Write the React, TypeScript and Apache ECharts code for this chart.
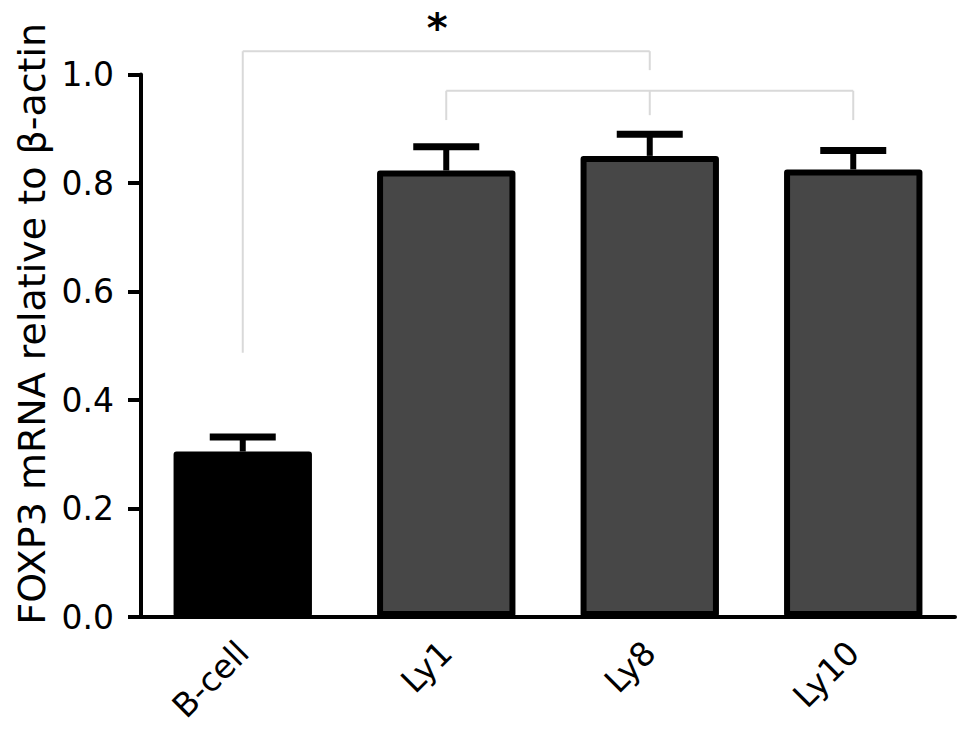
import React, { useEffect, useRef } from "react";
import * as echarts from "echarts";

const categories = ["B-cell", "Ly1", "Ly8", "Ly10"];
const means = [0.305, 0.823, 0.85, 0.825];
const errors = [0.027, 0.044, 0.04, 0.035];
const barColors = ["#000000", "#474747", "#474747", "#474747"];
const yMin = 0;
const yMax = 1;
const yInterval = 0.2;
const yTitle = "FOXP3 mRNA relative to β-actin";

// significance brackets (category indexes, level & drop ends in data units)
const bracketFrom = [0, 1];
const bracketTo = [2, 3];
const bracketLevels = [1.043, 0.97];
const bracketDrops = [
  [
    [0, 0.487],
    [2, 1.008],
  ],
  [
    [1, 0.916],
    [2, 0.925],
    [3, 0.916],
  ],
];
const starText = "*";
const starPos = [1, 1.085];

export default function App() {
  const ref = useRef<HTMLDivElement>(null);
  useEffect(() => {
    if (!ref.current) return;
    const chart = echarts.init(ref.current, null, { renderer: "svg" });
    const font = "DejaVu Sans";
    chart.setOption({
      animation: false,
      backgroundColor: "#ffffff",
      grid: {
        left: 141,
        right: 14,
        top: 74.5,
        bottom: 116,
        containLabel: false,
        outerBoundsMode: "none",
      },
      xAxis: {
        type: "category",
        data: categories,
        axisLine: { lineStyle: { color: "#000", width: 4 } },
        axisTick: {
          alignWithLabel: true,
          length: 13,
          lineStyle: { color: "#000", width: 4 },
        },
        axisLabel: {
          rotate: 45,
          margin: 30,
          fontSize: 33,
          fontFamily: font,
          color: "#000",
        },
      },
      yAxis: {
        type: "value",
        min: yMin,
        max: yMax,
        interval: yInterval,
        name: yTitle,
        nameLocation: "middle",
        nameRotate: 90,
        nameGap: 90,
        nameTextStyle: {
          fontSize: 38,
          fontFamily: font,
          color: "#000",
          padding: [0, 0, 0, 44],
        },
        splitLine: { show: false },
        axisLine: { show: true, lineStyle: { color: "#000", width: 4 } },
        axisTick: { show: true, length: 13, lineStyle: { color: "#000", width: 4 } },
        axisLabel: {
          margin: 27,
          fontSize: 33,
          fontFamily: font,
          color: "#000",
          formatter: (v: number) => v.toFixed(1),
        },
      },
      series: [
        {
          type: "bar",
          data: means.map((v, i) => ({ value: v, itemStyle: { color: barColors[i] } })),
          barWidth: "68%",
          itemStyle: { borderColor: "#000", borderWidth: 6, borderJoin: "round" },
          z: 2,
        },
        {
          type: "custom",
          z: 3,
          clip: false,
          data: means.map((m, i) => [i, m, errors[i]]),
          renderItem: (params: any, api: any) => {
            const i = api.value(0);
            const m = api.value(1);
            const e = api.value(2);
            const base = api.coord([i, m]);
            const top = api.coord([i, m + e]);
            const half = 33;
            return {
              type: "group",
              children: [
                {
                  type: "line",
                  shape: { x1: base[0], y1: base[1], x2: top[0], y2: top[1] },
                  style: { stroke: "#000", lineWidth: 6 },
                },
                {
                  type: "line",
                  shape: { x1: top[0] - half, y1: top[1], x2: top[0] + half, y2: top[1] },
                  style: { stroke: "#000", lineWidth: 7 },
                },
              ],
            };
          },
        },
        {
          type: "custom",
          z: 1,
          clip: false,
          data: bracketLevels.map((_, i) => [i]),
          renderItem: (params: any, api: any) => {
            const i = params.dataIndex;
            const a = api.coord([bracketFrom[i], bracketLevels[i]]);
            const b = api.coord([bracketTo[i], bracketLevels[i]]);
            const children: any[] = [
              {
                type: "line",
                shape: { x1: a[0], y1: a[1], x2: b[0], y2: b[1] },
                style: { stroke: "#d9d9d9", lineWidth: 2 },
              },
            ];
            bracketDrops[i].forEach((d) => {
              const p = api.coord([d[0], d[1]]);
              children.push({
                type: "line",
                shape: { x1: p[0], y1: a[1], x2: p[0], y2: p[1] },
                style: { stroke: "#d9d9d9", lineWidth: 2 },
              });
            });
            return { type: "group", children };
          },
        },
        {
          type: "custom",
          z: 4,
          clip: false,
          data: [starPos],
          renderItem: (params: any, api: any) => {
            const p = api.coord([api.value(0), api.value(1)]);
            return {
              type: "text",
              x: p[0] - 9,
              y: p[1],
              style: {
                text: starText,
                fontSize: 40,
                fontWeight: "bold",
                fontFamily: font,
                fill: "#000",
                align: "center",
                verticalAlign: "middle",
              },
            };
          },
        },
      ],
    });
    return () => chart.dispose();
  }, []);
  return (
    <div
      ref={ref}
      style={{ position: "fixed", left: 0, top: 0, width: 969, height: 733, background: "#fff" }}
    />
  );
}
